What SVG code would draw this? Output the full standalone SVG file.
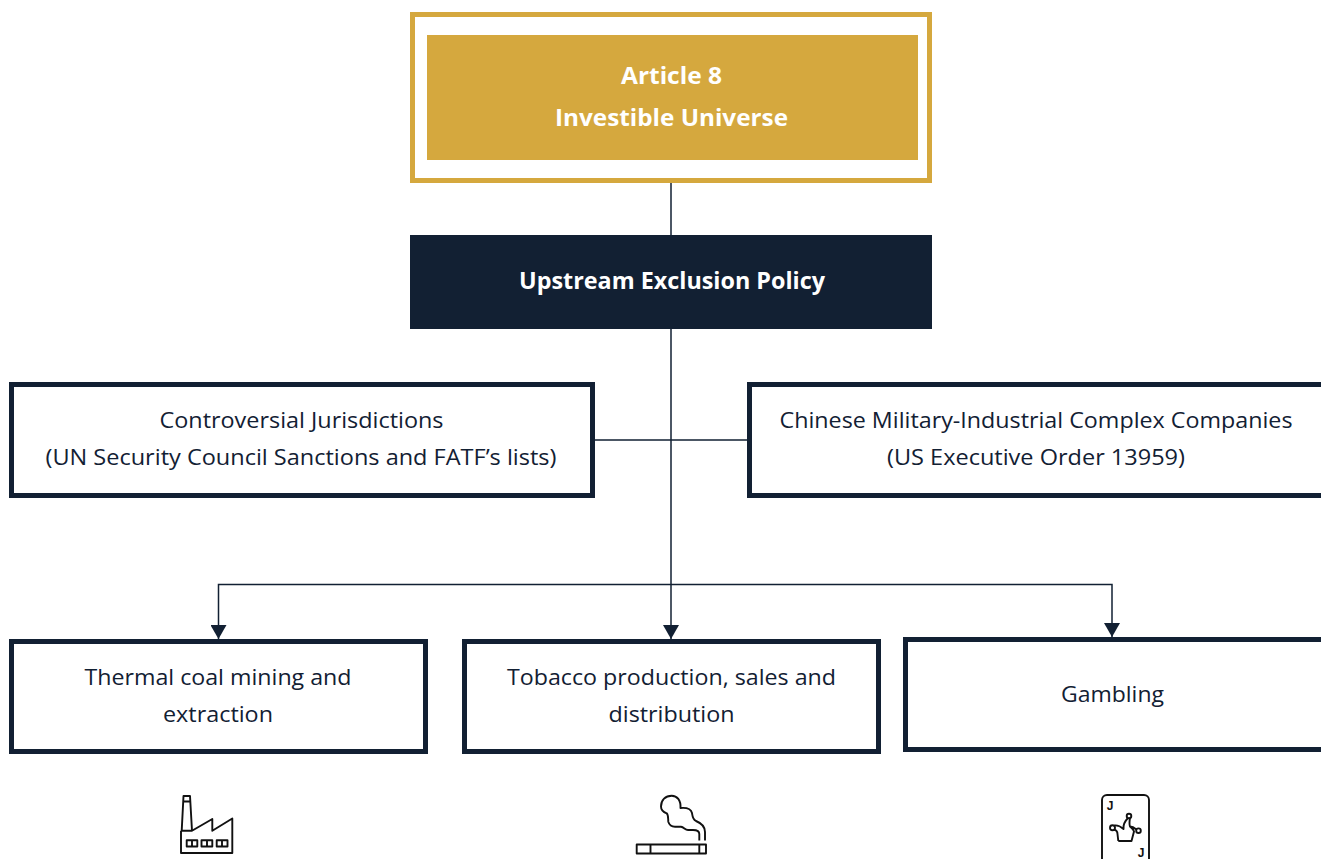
<svg xmlns="http://www.w3.org/2000/svg" width="1321" height="859" viewBox="0 0 1321 859">
<style>
text{font-family:"Open Sans","Noto Sans","Liberation Sans",sans-serif;text-anchor:middle;font-size:22px;fill:#122033}
.w{fill:#fff;font-weight:700;font-size:24px}
.box{fill:#fff;stroke:#122033;stroke-width:5}
.c{fill:none;stroke:#122033;stroke-width:1.5}
.i{fill:none;stroke:#111;stroke-width:1.9;stroke-linejoin:round}
text.j{font-family:"Liberation Sans",Arial,sans-serif;font-size:12px;font-weight:700;fill:#111}
</style>
<defs><marker id="a" markerUnits="userSpaceOnUse" markerWidth="15" markerHeight="16" refX="14" refY="8" orient="auto" viewBox="0 0 15 16"><path d="M0 0L14 8L0 16Z" fill="#122033"/></marker></defs>
<rect width="1321" height="859" fill="#fff"/>
<g id="connectors">
<path class="c" d="M671 183V235M671 329V584.500M595 440H747"/>
<path class="c" marker-end="url(#a)" d="M671 584.500H218.500V639"/>
<path class="c" marker-end="url(#a)" d="M671 584.500V639"/>
<path class="c" marker-end="url(#a)" d="M671 584.500H1112V637"/>
</g>
<g id="article8">
<rect x="412.500" y="14.500" width="517" height="166" fill="#fff" stroke="#d5a83e" stroke-width="5"/>
<rect x="427" y="35" width="491" height="125" fill="#d5a83e"/>
<text class="w" x="671.500" y="84" textLength="101" lengthAdjust="spacingAndGlyphs">Article 8</text>
<text class="w" x="671.500" y="126" textLength="233" lengthAdjust="spacingAndGlyphs">Investible Universe</text>
</g>
<g id="upstream">
<rect x="410" y="235" width="522" height="94" fill="#122033"/>
<text class="w" x="672" y="289" textLength="306" lengthAdjust="spacingAndGlyphs">Upstream Exclusion Policy</text>
</g>
<g id="jurisdictions">
<rect class="box" x="11.500" y="384.500" width="581" height="111"/>
<text x="301.500" y="428" textLength="284" lengthAdjust="spacingAndGlyphs">Controversial Jurisdictions</text>
<text x="301" y="465" textLength="511" lengthAdjust="spacingAndGlyphs">(UN Security Council Sanctions and FATF’s lists)</text>
</g>
<g id="chinese">
<rect class="box" x="749.500" y="384.500" width="580" height="111"/>
<text x="1036" y="428" textLength="513" lengthAdjust="spacingAndGlyphs">Chinese Military-Industrial Complex Companies</text>
<text x="1036" y="465" textLength="298" lengthAdjust="spacingAndGlyphs">(US Executive Order 13959)</text>
</g>
<g id="coal">
<rect class="box" x="11.500" y="641.500" width="414" height="110"/>
<text x="218" y="685" textLength="267" lengthAdjust="spacingAndGlyphs">Thermal coal mining and</text>
<text x="218" y="722" textLength="110" lengthAdjust="spacingAndGlyphs">extraction</text>
</g>
<g id="tobacco">
<rect class="box" x="464.500" y="641.500" width="414" height="110"/>
<text x="671.500" y="685" textLength="329" lengthAdjust="spacingAndGlyphs">Tobacco production, sales and</text>
<text x="671.500" y="722" textLength="126" lengthAdjust="spacingAndGlyphs">distribution</text>
</g>
<g id="gambling">
<rect class="box" x="905.500" y="639.500" width="424" height="110"/>
<text x="1112.500" y="702" textLength="103" lengthAdjust="spacingAndGlyphs">Gambling</text>
</g>
<g id="factory-icon" class="i">
<path d="M181 830.700V853H232.300V818.500L212.300 830.700V819L192 830.700H181"/>
<path d="M181.700 830.700L183.500 796H190L192 830.700M183.300 801.500H190.300"/>
<path d="M186.700 840.200H197.300V846.500H186.700ZM192 840.200V846.500M201.500 840.200H212.300V846.500H201.500ZM207 840.200V846.500M216.700 840.200H227.500V846.500H216.700ZM222 840.200V846.500"/>
</g>
<g id="cigarette-icon" class="i">
<path d="M636.700 844.500H706V853.500H636.700ZM650.500 844.500V853.500M699.300 844.500V853.500"/>
<path d="M699.300 840.500V834C699.300 831 697 830 693 830H688C685 830 684 827 681 826.700H675C671 826.700 669 824 668.300 821.700C668 818 668.500 815 666.700 813.300C663 812 661 810 661 806.500C661 800 665.500 795.700 671.700 795.700C677 795.700 681 800 680.500 808C686 807.500 691 809 692 813C692.500 816 692.500 819 696 821C701 823 705 826 705 832V840.500"/>
</g>
<g id="card-icon">
<rect class="i" x="1102" y="795" width="47" height="70" rx="5"/>
<text class="j" x="1110" y="810">J</text>
<text class="j" x="1141" y="857">J</text>
<path class="i" d="M1118.300 841H1131.500L1134 831.500C1133.500 829 1131 827.500 1130 826.500C1129 824 1129.500 821 1130 818M1128 818C1125 821 1123 824 1123.500 829C1120 826 1118 825 1114.500 825.500M1114 829.700C1116 830 1117.500 831 1117.500 834L1118.300 841M1130 826.500C1132 826.500 1134 827.500 1136.500 829.500"/>
<circle class="i" cx="1129" cy="816" r="2.300"/>
<circle class="i" cx="1112.500" cy="827.700" r="2.500"/>
<circle class="i" cx="1138.500" cy="830.700" r="2.300"/>
</g>
</svg>
